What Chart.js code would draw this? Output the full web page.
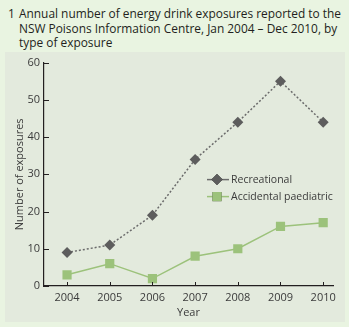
<!DOCTYPE html>
<html>
<head>
<meta charset="utf-8">
<script src="https://cdn.jsdelivr.net/npm/chart.js@4/dist/chart.umd.min.js"></script>
<style>
  body { margin: 0; width: 349px; height: 327px; background: #e9f4e1; position: relative; overflow: hidden; font-family: "Open Sans", sans-serif; }
  .title { position: absolute; left: 8px; top: 6px; width: 338px; font-size: 11.9px; line-height: 14.5px; color: #231f20; }
  .title .num { position: absolute; left: 0; top: 0; }
  .title .text { margin-left: 11px; }
  .panel { position: absolute; left: 5px; top: 52px; width: 340px; height: 270px; background: #e3eadd; }
</style>
</head>
<body>
<div class="title"><span class="num">1</span><div class="text">Annual number of energy drink exposures reported to the NSW Poisons Information Centre, Jan 2004 – Dec 2010, by type of exposure</div></div>
<div class="panel"><canvas id="exposureChart"></canvas></div>
<script>
// Yearly counts by type of exposure
const years = [2004, 2005, 2006, 2007, 2008, 2009, 2010];
const recreational = [9, 11, 19, 34, 44, 55, 44];
const accidentalPaediatric = [3, 6, 2, 8, 10, 16, 17];
const yTicks = [0, 10, 20, 30, 40, 50, 60];

const axisColor = '#231f20';
const labelColor = '#3b3b3b';

// small tick marks pointing into the plot
const innerTicks = {
    id: 'innerTicks',
    afterDatasetsDraw(chart) {
        const ctx = chart.ctx;
        const x = chart.scales.x, y = chart.scales.y;
        ctx.save();
        ctx.strokeStyle = axisColor;
        ctx.lineWidth = 1;
        ctx.beginPath();
        x.ticks.forEach(t => {
            const px = Math.round(x.getPixelForValue(t.value)) + 0.5;
            ctx.moveTo(px, y.bottom);
            ctx.lineTo(px, y.bottom - 4);
        });
        y.ticks.forEach(t => {
            const py = Math.round(y.getPixelForValue(t.value)) + 0.5;
            ctx.moveTo(x.left, py);
            ctx.lineTo(x.left + 5, py);
        });
        ctx.stroke();
        ctx.restore();
    }
};

// legend drawn inside the plot area
const insideLegend = {
    id: 'insideLegend',
    afterDraw(chart) {
        const ctx = chart.ctx;
        const area = chart.chartArea;
        const left = area.left + 163;
        let top = area.top + 117;
        ctx.save();
        ctx.font = '10.5px "Open Sans", sans-serif';
        ctx.textBaseline = 'middle';
        chart.data.datasets.forEach(ds => {
            ctx.strokeStyle = ds.borderColor;
            ctx.lineWidth = 1.5;
            ctx.setLineDash([]);
            ctx.beginPath();
            ctx.moveTo(left, top);
            ctx.lineTo(left + 22, top);
            ctx.stroke();
            Chart.helpers.drawPoint(ctx, {
                pointStyle: ds.pointStyle,
                radius: ds.pointRadius,
                borderWidth: 0
            }, left + 10, top);
            ctx.fillStyle = ds.pointBackgroundColor;
            ctx.fill();
            ctx.fillStyle = labelColor;
            ctx.fillText(ds.label, left + 24, top);
            top += 17;
        });
        ctx.restore();
    }
};

new Chart(document.getElementById('exposureChart'), {
    type: 'line',
    data: {
        datasets: [{
            label: 'Recreational',
            data: years.map((yr, i) => ({ x: yr, y: recreational[i] })),
            borderColor: '#6b6b6b',
            borderWidth: 1.5,
            borderDash: [2, 2],
            pointStyle: 'rectRot',
            pointRadius: 5.5,
            pointBackgroundColor: '#5d5d5d',
            pointBorderWidth: 0,
            tension: 0
        }, {
            label: 'Accidental paediatric',
            data: years.map((yr, i) => ({ x: yr, y: accidentalPaediatric[i] })),
            borderColor: '#9cc27b',
            borderWidth: 1.5,
            pointStyle: 'rect',
            pointRadius: 6.5,
            pointBackgroundColor: '#9cc27b',
            pointBorderWidth: 0,
            tension: 0
        }]
    },
    options: {
        responsive: true,
        maintainAspectRatio: false,
        animation: false,
        layout: { padding: { top: 10, right: 12, left: 0, bottom: 0 } },
        plugins: {
            legend: { display: false },
            tooltip: { enabled: false }
        },
        scales: {
            x: {
                type: 'linear',
                min: 2003.46,
                max: 2010.23,
                afterBuildTicks: scale => { scale.ticks = years.map(v => ({ value: v })); },
                afterFit: scale => { scale.height = 36; },
                grid: { display: false, drawTicks: false },
                border: { display: true, color: axisColor, width: 1.2 },
                ticks: {
                    padding: 5,
                    color: labelColor,
                    font: { family: 'Open Sans', size: 11 },
                    callback: v => String(v)
                },
                title: {
                    display: true,
                    text: 'Year',
                    color: labelColor,
                    font: { family: 'Open Sans', size: 11 },
                    padding: { top: 0, bottom: 3 }
                }
            },
            y: {
                min: 0,
                max: 60,
                afterBuildTicks: scale => { scale.ticks = yTicks.map(v => ({ value: v })); },
                afterFit: scale => { scale.width = 39; },
                grid: { display: false, drawTicks: false },
                border: { display: true, color: axisColor, width: 1.2 },
                ticks: {
                    padding: 4,
                    color: labelColor,
                    font: { family: 'Open Sans', size: 11 }
                },
                title: {
                    display: true,
                    text: 'Number of exposures',
                    color: labelColor,
                    font: { family: 'Open Sans', size: 11 },
                    padding: { top: 8, bottom: 0 }
                }
            }
        }
    },
    plugins: [innerTicks, insideLegend]
});
</script>
</body>
</html>
